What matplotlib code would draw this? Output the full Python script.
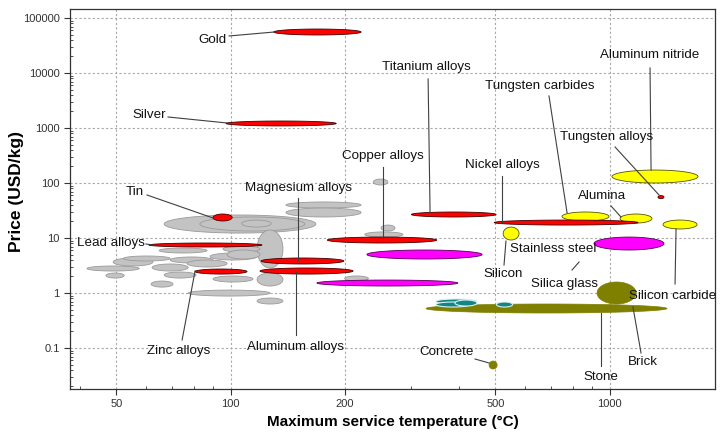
import numpy as np
import matplotlib
matplotlib.use("Agg")
import matplotlib.pyplot as plt
from matplotlib.ticker import FixedLocator, LogLocator, NullFormatter, FixedFormatter

plt.rcParams['font.family'] = ['Liberation Sans', 'DejaVu Sans']

# ---------------- data (temperature range in degC, price range in USD/kg) ----------------
grey_tmin = [66.8, 83, 107, 140, 140, 117.5, 238, 249.5, 226, 200, 41.8, 46.9, 49, 52.1, 62.1, 66.8,
             61.7, 64.8, 69.3, 76.8, 88.3, 89.9, 95.5, 77.3, 117.5, 117.5, 97.9]
grey_tmax = [168, 157, 128, 221, 221, 137.5, 260, 271.6, 285, 231, 57.4, 52.4, 62.4, 69.3, 77.3, 81.1,
             70.5, 86.7, 89.9, 97.9, 117.5, 114.6, 119.6, 127.1, 137.5, 137.5, 119.6]
grey_pmin = [12.3, 13.4, 15.8, 35.1, 24.1, 2.85, 92, 13.4, 10.4, 1.65, 2.51, 1.87, 3.1, 3.82, 2.51, 1.87,
             1.28, 5.34, 3.51, 2.97, 3.98, 1.585, 5.56, 0.88, 1.34, 0.631, 4.15]
grey_pmax = [26.2, 24.1, 21.2, 45.2, 35.1, 14.0, 118, 17.2, 12.9, 2.04, 3.1, 2.31, 4.33, 4.71, 3.37, 2.41,
             1.65, 6.58, 4.52, 3.98, 5.34, 2.04, 7.16, 1.13, 2.31, 0.81, 6.05]

teal_tmin = [348, 348, 391, 503]
teal_tmax = [447, 428, 447, 555]
teal_pmin = [0.631, 0.556, 0.58, 0.556]
teal_pmax = [0.778, 0.686, 0.746, 0.686]

olive_names = ["Stone", "Brick", "Concrete"]
olive_tmin = [328, 927, 481]
olive_tmax = [1418, 1175, 505]
olive_pmin = [0.433, 0.631, 0.0415]
olive_pmax = [0.631, 1.585, 0.058]

yellow_names = ["Tungsten carbides", "Alumina", "Aluminum nitride", "Silicon carbide", "Silicon"]
yellow_tmin = [749, 1066, 1015, 1384, 524]
yellow_tmax = [997, 1294, 1712, 1702, 577]
yellow_pmin = [20.4, 18.7, 100, 14.6, 9.2]
yellow_pmax = [29.7, 27.3, 172, 21.2, 15.8]

magenta_names = ["Stainless steel", "Steel A", "Steel B"]
magenta_tmin = [910, 229, 169]
magenta_tmax = [1392, 461, 398]
magenta_pmin = [6.05, 4.15, 1.34]
magenta_pmax = [10.4, 6.05, 1.72]

red_names = ["Gold", "Silver", "Tin", "Lead alloys", "Zinc alloys", "Magnesium alloys",
             "Aluminum alloys", "Copper alloys", "Titanium alloys", "Nickel alloys", "Tungsten alloys"]
red_tmin = [130, 97.3, 89.9, 60.9, 80.6, 120.4, 119.6, 180, 300, 496, 1342]
red_tmax = [221, 190, 101, 121, 110.5, 199, 210.5, 350, 502, 1189, 1392]
red_pmin = [49100, 1090, 20.4, 6.86, 2.21, 3.37, 2.21, 8.11, 24.1, 17.2, 52]
red_pmax = [63000, 1340, 27.3, 8.11, 2.73, 4.33, 2.85, 10.4, 29.7, 21.2, 59]

x_ticks = [50, 100, 200, 500, 1000]
x_ticklabels = ["50", "100", "200", "500", "1000"]
y_ticks = [0.1, 1, 10, 100, 1000, 10000, 100000]
y_ticklabels = ["0.1", "1", "10", "100", "1000", "10000", "100000"]

# label text, text position (T, P), alignment, leader start (T, P), leader end (T, P)
labels = [
    ("Gold", (97.3, 39800), "right", (99.1, 47100), (130.3, 55600)),
    ("Silver", (67.6, 1722), "right", (68.4, 1585), (97.9, 1233)),
    ("Tin", (56.0, 68.6), "center", (60.2, 60.5), (89.9, 23.1)),
    ("Lead alloys", (59.5, 8.11), "right", (59.8, 7.78), (62.0, 7.5)),
    ("Zinc alloys", (73.1, 0.0882), "center", (74.5, 0.1398), (80.6, 2.51)),
    ("Magnesium alloys", (150.7, 81.1), "center", (150.7, 53.4), (150.7, 3.98)),
    ("Aluminum alloys", (148.0, 0.1043), "center", (148.9, 0.1723), (148.9, 2.41)),
    ("Copper alloys", (252.6, 309.7), "center", (252.6, 195.4), (252.6, 9.59)),
    ("Titanium alloys", (328.1, 12850), "center", (332.1, 7780), (336.1, 28.5)),
    ("Nickel alloys", (520.4, 212.3), "center", (520.4, 134), (520.4, 19.5)),
    ("Tungsten carbides", (655.4, 5800), "center", (692.2, 3818), (772.7, 28.5)),
    ("Aluminum nitride", (1279, 21230), "center", (1279, 12330), (1287, 172.2)),
    ("Tungsten alloys", (984.9, 685.5), "center", (1034, 451.3), (1351, 60.5)),
    ("Alumina", (955.5, 58.0), "center", (1009, 38.2), (1072, 24.1)),
    ("Silicon carbide", (1471, 0.882), "center", (1489, 1.458), (1498, 14.58)),
    ("Stainless steel", (709.6, 6.31), "center", None, None),
    ("Silica glass", (758.6, 1.458), "center", (796.2, 2.62), (831, 3.66)),
    ("Silicon", (523.6, 2.215), "center", (526.7, 3.23), (533, 8.8)),
    ("Brick", (1226, 0.0556), "center", (1211, 0.0811), (1153, 0.556)),
    ("Stone", (949.6, 0.0297), "center", (949.6, 0.0471), (949.6, 0.433)),
    ("Concrete", (372.5, 0.0846), "center", (441.7, 0.0631), (480.9, 0.0534)),
]

# ---------------- figure ----------------
fig = plt.figure(figsize=(7.23, 4.34), dpi=100)
ax = fig.add_axes([70 / 723, 1 - 389 / 434, (715 - 70) / 723, (389 - 9) / 434])
ax.set_xscale("log")
ax.set_yscale("log")
ax.set_xlim(37.7, 1898)
ax.set_ylim(0.01798, 145700)


def bubble(t0, t1, p0, p1, fc, ec, lw=0.6, z=2):
    th = np.linspace(0, 2 * np.pi, 200)
    lx0, lx1 = np.log10(t0), np.log10(t1)
    ly0, ly1 = np.log10(p0), np.log10(p1)
    cx, rx = (lx0 + lx1) / 2, (lx1 - lx0) / 2
    cy, ry = (ly0 + ly1) / 2, (ly1 - ly0) / 2
    xs = 10 ** (cx + rx * np.cos(th))
    ys = 10 ** (cy + ry * np.sin(th))
    ax.fill(xs, ys, facecolor=fc, edgecolor=ec, linewidth=lw, zorder=z)


for a, b, c, d in zip(grey_tmin, grey_tmax, grey_pmin, grey_pmax):
    bubble(a, b, c, d, "#c3c3c3", "#9a9a9a", 0.6, 2)
for a, b, c, d in zip(teal_tmin, teal_tmax, teal_pmin, teal_pmax):
    bubble(a, b, c, d, "#138585", "#d8f0f0", 0.8, 3)
for a, b, c, d in zip(olive_tmin, olive_tmax, olive_pmin, olive_pmax):
    bubble(a, b, c, d, "#7f7f00", "#7f7f00", 0.5, 2.5)
for a, b, c, d in zip(yellow_tmin, yellow_tmax, yellow_pmin, yellow_pmax):
    bubble(a, b, c, d, "#ffff00", "#555500", 0.6, 4)
for a, b, c, d in zip(magenta_tmin, magenta_tmax, magenta_pmin, magenta_pmax):
    bubble(a, b, c, d, "#ff00ff", "#550055", 0.6, 4)
for a, b, c, d in zip(red_tmin, red_tmax, red_pmin, red_pmax):
    bubble(a, b, c, d, "#ff0000", "#400000", 0.6, 5)

# labels with leader lines
for text, tp, ha, ls, le in labels:
    ax.text(tp[0], tp[1], text, ha=ha, va="center", fontsize=9.6, color="#111111", zorder=7)
    if ls is not None:
        ax.plot([ls[0], le[0]], [ls[1], le[1]], color="#404040", lw=0.8, zorder=6)

# axes styling
ax.xaxis.set_major_locator(FixedLocator(x_ticks))
ax.xaxis.set_major_formatter(FixedFormatter(x_ticklabels))
ax.xaxis.set_minor_locator(LogLocator(base=10, subs=np.arange(1, 10)))
ax.xaxis.set_minor_formatter(NullFormatter())
ax.yaxis.set_major_locator(FixedLocator(y_ticks))
ax.yaxis.set_major_formatter(FixedFormatter(y_ticklabels))
ax.yaxis.set_minor_locator(LogLocator(base=10, subs=np.arange(2, 10)))
ax.yaxis.set_minor_formatter(NullFormatter())
ax.tick_params(which="major", direction="out", length=4, width=0.8, labelsize=8, colors="#333333")
ax.tick_params(which="minor", direction="in", length=2.5, width=0.6, colors="#333333")
ax.grid(True, which="major", linestyle=(0, (2, 2)), color="#a8a8a8", linewidth=0.8, zorder=0)
ax.set_axisbelow(True)
for s in ax.spines.values():
    s.set_color("#333333")
    s.set_linewidth(0.9)

ax.set_xlabel("Maximum service temperature (°C)", fontsize=11, fontweight="bold", labelpad=4)
ax.set_ylabel("Price (USD/kg)", fontsize=12.5, fontweight="bold")
ax.yaxis.set_label_coords(-0.0713, 0.521)

fig.savefig("out.png", dpi=100)
